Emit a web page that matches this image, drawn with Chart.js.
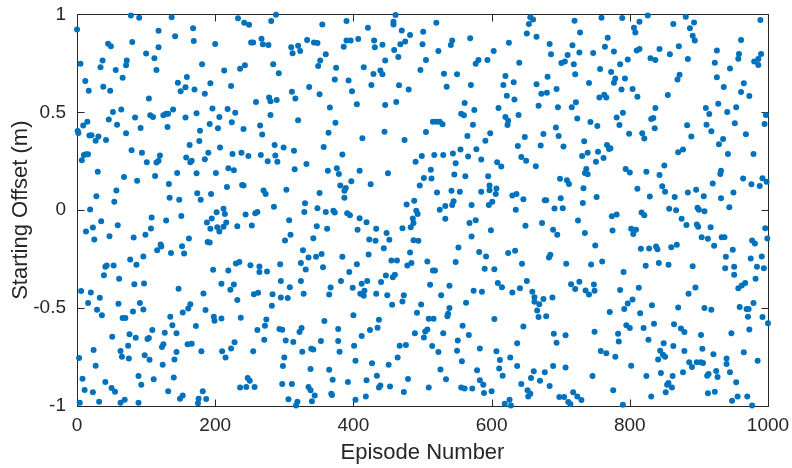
<!DOCTYPE html>
<html>
<head>
<meta charset="utf-8">
<script src="https://cdn.jsdelivr.net/npm/chart.js@4/dist/chart.umd.min.js"></script>
<style>
  html, body { margin: 0; padding: 0; background: #ffffff; }
  #wrap { width: 792px; height: 468px; }
</style>
</head>
<body>
<div id="wrap"><canvas id="c" width="792" height="468"></canvas></div>
<script>
// Starting offset (m) drawn for each training episode, as [episode, offset].
const episodeOffsets = [
  [0,0.923],[78,0.995],[90,0.983],[80,0.859],[45,0.850],[49,0.837],[5,0.748],[37,0.765],[34,0.730],[56,0.716],
  [72,0.765],[71,0.740],[12,0.66],[17,0.61],[38,0.63],[48,0.61],[66,0.677],[1,0.405],[2,0.394],[9,0.432],
  [15,0.452],[18,0.381],[21,0.383],[27,0.355],[31,0.376],[42,0.359],[46,0.463],[52,0.502],[58,0.437],[64,0.514],
  [71,0.393],[84,0.473],[92,0.42],[10,0.282],[13,0.286],[16,0.286],[7,0.255],[79,0.306],[94,0.293],[30,0.196],
  [68,0.17],[87,0.15],[57,0.10],[28,0.071],[54,0.043],[19,0.003],[35,-0.056],[23,-0.088],[13,-0.109],[25,-0.15],
  [47,-0.133],[59,-0.077],[82,-0.139],[99,-0.126],[77,-0.252],[86,-0.279],[96,-0.236],[41,-0.289],[43,-0.282],[53,-0.282],
  [39,-0.332],[61,-0.35],[83,-0.378],[97,-0.374],[6,-0.413],[20,-0.42],[16,-0.474],[33,-0.447],[29,-0.508],[36,-0.537],
  [60,-0.478],[91,-0.474],[96,-0.507],[81,-0.517],[66,-0.551],[70,-0.551],[51,-0.646],[76,-0.634],[85,-0.651],[24,-0.714],
  [63,-0.719],[74,-0.692],[65,-0.748],[75,-0.758],[98,-0.741],[3,-0.755],[27,-0.794],[8,-0.861],[11,-0.918],[23,-0.93],
  [41,-0.878],[50,-0.908],[55,-0.927],[89,-0.847],[93,-0.891],[4,-0.983],[32,-0.978],[63,-0.983],[69,-0.968],[89,-0.983],

  [137,0.985],[168,0.929],[118,0.917],[142,0.889],[169,0.864],[100,0.80],[118,0.832],[112,0.776],[115,0.716],[181,0.745],
  [159,0.68],[146,0.651],[157,0.628],[150,0.607],[170,0.616],[185,0.595],[104,0.57],[106,0.485],[110,0.476],[125,0.485],
  [129,0.493],[132,0.493],[139,0.514],[157,0.473],[173,0.495],[131,0.425],[178,0.406],[177,0.354],[163,0.333],[101,0.245],
  [115,0.243],[118,0.253],[120,0.279],[158,0.269],[166,0.252],[164,0.245],[185,0.26],[190,0.294],[113,0.175],[145,0.19],
  [173,0.189],[133,0.134],[134,0.063],[148,0.053],[174,0.087],[179,0.054],[108,-0.037],[129,-0.053],[151,-0.029],[107,-0.094],
  [121,-0.175],[122,-0.185],[116,-0.204],[136,-0.218],[152,-0.184],[155,-0.221],[162,-0.145],[188,-0.063],[189,-0.162],[147,-0.401],
  [183,-0.425],[153,-0.522],[161,-0.502],[164,-0.48],[186,-0.51],[135,-0.544],[138,-0.588],[144,-0.628],[127,-0.626],[109,-0.612],
  [102,-0.658],[104,-0.653],[172,-0.592],[160,-0.684],[166,-0.682],[125,-0.684],[123,-0.699],[144,-0.724],[141,-0.762],[180,-0.721],
  [105,-0.764],[124,-0.789],[111,-0.864],[140,-0.855],[132,-0.925],[149,-0.963],[153,-0.947],[176,-0.963],[175,-0.986],[182,-0.925],
  [187,-0.964],

  [233,0.98],[242,0.957],[249,0.947],[281,0.966],[288,0.998],[200,0.849],[252,0.857],[255,0.857],[267,0.876],[269,0.847],
  [277,0.844],[213,0.713],[236,0.723],[243,0.74],[284,0.745],[193,0.648],[223,0.634],[259,0.553],[278,0.575],[280,0.556],
  [289,0.563],[196,0.519],[206,0.476],[218,0.517],[229,0.498],[224,0.449],[192,0.44],[204,0.418],[241,0.415],[265,0.432],
  [268,0.386],[280,0.486],[207,0.32],[225,0.287],[238,0.293],[248,0.277],[266,0.282],[276,0.25],[286,0.333],[287,0.279],
  [290,0.247],[219,0.214],[227,0.204],[201,0.19],[194,0.083],[217,0.119],[239,0.129],[241,0.126],[270,0.10],[273,0.083],
  [285,0.017],[202,-0.01],[212,0.007],[214,-0.02],[195,-0.043],[193,-0.095],[203,-0.087],[206,-0.109],[212,-0.085],[216,-0.063],
  [232,-0.082],[244,-0.022],[258,-0.015],[261,-0.009],[253,-0.078],[192,-0.165],[197,-0.304],[219,-0.308],[230,-0.272],[235,-0.265],
  [251,-0.281],[264,-0.287],[264,-0.316],[275,-0.313],[209,-0.376],[222,-0.406],[227,-0.379],[232,-0.459],[256,-0.429],[262,-0.422],
  [283,-0.429],[282,-0.488],[198,-0.544],[199,-0.565],[209,-0.553],[237,-0.549],[274,-0.558],[272,-0.59],[261,-0.612],[271,-0.662],
  [228,-0.675],[223,-0.706],[210,-0.721],[215,-0.752],[255,-0.721],[247,-0.857],[250,-0.871],[236,-0.905],[245,-0.903],[257,-0.903],

  [292,0.70],[355,0.949],[390,0.966],[333,0.869],[343,0.857],[348,0.854],[310,0.832],[320,0.84],[312,0.801],[323,0.813],
  [360,0.796],[352,0.764],[349,0.736],[386,0.835],[390,0.867],[375,0.728],[373,0.667],[336,0.629],[311,0.605],[316,0.571],
  [351,0.592],[366,0.524],[320,0.459],[374,0.446],[364,0.396],[357,0.323],[384,0.284],[299,0.32],[314,0.303],[332,0.236],
  [315,0.209],[363,0.202],[376,0.214],[379,0.185],[381,0.126],[389,0.114],[387,0.099],[387,0.063],[303,0.105],[351,0.088],
  [330,0.036],[329,-0.009],[348,0.01],[360,-0.009],[371,-0.003],[373,-0.012],[391,-0.015],[307,-0.051],[347,-0.082],[362,-0.095],
  [309,-0.126],[301,-0.155],[342,-0.143],[327,-0.204],[335,-0.241],[346,-0.238],[354,-0.224],[356,-0.291],[384,-0.238],[324,-0.27],
  [331,-0.303],[294,-0.276],[295,-0.361],[308,-0.393],[324,-0.361],[328,-0.427],[295,-0.446],[305,-0.449],[367,-0.395],[365,-0.43],
  [382,-0.361],[293,-0.607],[297,-0.611],[325,-0.602],[322,-0.622],[358,-0.566],[378,-0.607],[378,-0.668],[380,-0.723],[302,-0.665],
  [313,-0.673],[353,-0.668],[326,-0.723],[339,-0.707],[342,-0.711],[300,-0.752],[298,-0.796],[338,-0.811],[365,-0.815],[297,-0.888],
  [311,-0.888],[335,-0.903],[338,-0.92],[344,-0.946],[370,-0.866],[368,-0.937],[369,-0.944],[306,-0.966],[319,-0.978],[317,-0.997],
  [340,-0.976],

  [396,0.867],[407,0.874],[421,0.932],[461,0.997],[458,0.963],[458,0.949],[470,0.918],[482,0.895],[475,0.862],[430,0.867],
  [431,0.832],[442,0.845],[459,0.818],[468,0.847],[465,0.782],[446,0.765],[415,0.73],[439,0.714],[442,0.694],[429,0.696],
  [393,0.663],[398,0.607],[426,0.639],[466,0.638],[480,0.616],[405,0.541],[446,0.537],[462,0.553],[413,0.367],[445,0.401],
  [474,0.359],[409,0.202],[397,0.148],[425,0.133],[450,0.189],[490,0.248],[395,-0.026],[409,-0.041],[419,-0.061],[406,-0.10],
  [433,-0.095],[477,0.029],[488,0.048],[491,-0.003],[493,-0.019],[486,-0.043],[487,-0.066],[483,-0.087],[471,-0.092],[448,-0.117],
  [423,-0.15],[432,-0.156],[452,-0.151],[422,-0.226],[444,-0.194],[487,-0.153],[482,-0.216],[455,-0.257],[463,-0.257],[405,-0.276],
  [478,-0.282],[484,-0.27],[394,-0.315],[447,-0.333],[457,-0.342],[460,-0.33],[420,-0.361],[412,-0.376],[440,-0.367],[399,-0.396],
  [416,-0.412],[410,-0.427],[415,-0.437],[433,-0.427],[449,-0.434],[473,-0.435],[471,-0.466],[456,-0.483],[400,-0.536],[437,-0.56],
  [435,-0.6],[424,-0.612],[412,-0.643],[492,-0.524],[489,-0.628],[401,-0.692],[467,-0.692],[476,-0.689],[464,-0.752],[403,-0.769],
  [427,-0.782],[451,-0.789],[434,-0.845],[392,-0.878],[419,-0.869],[439,-0.895],[437,-0.905],[453,-0.901],[479,-0.862],[473,-0.929],
  [403,-0.968],[418,-0.952],

  [494,-0.156],[520,0.957],[501,0.912],[500,0.847],[541,0.844],[543,0.867],[569,0.878],[523,0.813],[505,0.767],[497,0.716],
  [577,0.748],[581,0.767],[531,0.697],[550,0.694],[535,0.631],[570,0.639],[561,0.548],[575,0.512],[556,0.493],[560,0.485],
  [573,0.437],[515,0.452],[520,0.452],[525,0.452],[529,0.439],[505,0.40],[565,0.379],[591,0.355],[499,0.277],[517,0.282],
  [530,0.282],[544,0.289],[555,0.31],[566,0.274],[578,0.311],[585,0.259],[548,0.24],[512,0.206],[513,0.162],[502,0.165],
  [496,0.126],[546,0.182],[562,0.173],[521,0.09],[542,0.099],[554,0.094],[585,0.094],[571,0.026],[525,0.002],[533,0.022],
  [543,0.026],[545,0.046],[533,-0.044],[568,-0.065],[577,-0.051],[571,-0.134],[552,-0.19],[582,-0.213],[592,-0.236],[590,-0.299],
  [507,-0.262],[515,-0.308],[518,-0.308],[548,-0.264],[511,-0.381],[539,-0.386],[527,-0.435],[574,-0.412],[586,-0.417],[563,-0.473],
  [498,-0.481],[509,-0.554],[516,-0.554],[539,-0.5],[537,-0.529],[536,-0.541],[507,-0.609],[504,-0.619],[502,-0.65],[530,-0.628],
  [558,-0.59],[567,-0.638],[551,-0.665],[514,-0.694],[523,-0.724],[550,-0.718],[557,-0.772],[583,-0.706],[526,-0.813],[534,-0.864],
  [579,-0.818],[583,-0.869],[588,-0.891],[589,-0.934],[509,-0.905],[556,-0.905],[561,-0.91],[572,-0.91],

  [594,0.767],[656,0.985],[660,0.974],[654,0.951],[651,0.903],[665,0.886],[625,0.855],[684,0.849],[686,0.796],[603,0.813],
  [640,0.753],[620,0.685],[617,0.639],[632,0.653],[622,0.585],[633,0.566],[681,0.682],[665,0.643],[672,0.595],[680,0.60],
  [668,0.534],[610,0.522],[639,0.486],[620,0.476],[624,0.457],[623,0.435],[598,0.393],[648,0.374],[675,0.389],[638,0.328],
  [671,0.33],[643,0.272],[650,0.253],[608,0.245],[614,0.223],[664,0.224],[595,0.173],[597,0.126],[597,0.102],[607,0.111],
  [606,0.083],[596,0.027],[601,0.043],[630,0.075],[636,0.083],[646,0.056],[677,0.051],[679,0.051],[691,0.009],[635,0.002],
  [599,-0.102],[649,-0.08],[673,-0.066],[689,-0.10],[624,-0.218],[634,-0.207],[644,-0.274],[683,-0.241],[685,-0.228],[604,-0.301],
  [609,-0.372],[615,-0.393],[630,-0.42],[641,-0.398],[651,-0.361],[659,-0.417],[662,-0.444],[662,-0.468],[669,-0.48],[666,-0.512],
  [668,-0.546],[675,-0.454],[679,-0.541],[688,-0.446],[604,-0.556],[646,-0.594],[690,-0.631],[637,-0.68],[607,-0.721],[612,-0.765],
  [611,-0.808],[616,-0.845],[627,-0.752],[637,-0.796],[689,-0.796],[661,-0.823],[657,-0.857],[670,-0.871],[677,-0.827],[684,-0.898],
  [643,-0.888],[652,-0.92],[656,-0.937],[653,-0.951],[600,-0.925],[619,-0.988],[626,-0.968],[628,-0.997],

  [693,0.422],[697,0.379],[694,-0.677],[720,0.968],[759,0.983],[789,0.981],[728,0.908],[768,0.881],[717,0.842],[727,0.806],
  [710,0.793],[706,0.76],[701,0.752],[719,0.745],[721,0.694],[747,0.803],[764,0.835],[777,0.811],[757,0.721],[773,0.706],
  [779,0.672],[777,0.651],[786,0.745],[788,0.616],[741,0.65],[694,0.619],[696,0.526],[716,0.526],[722,0.551],[756,0.575],
  [763,0.59],[766,0.575],[724,0.468],[743,0.451],[753,0.43],[781,0.473],[785,0.435],[790,0.498],[704,0.325],[734,0.352],
  [731,0.277],[739,0.294],[754,0.299],[751,0.247],[762,0.267],[767,0.333],[770,0.313],[772,0.316],[737,0.211],[735,0.19],
  [739,0.184],[699,0.16],[709,0.153],[712,0.134],[733,0.112],[752,0.068],[700,0.061],[703,0.01],[732,0.037],[774,-0.031],
  [781,-0.022],[725,-0.053],[695,-0.126],[735,-0.117],[775,-0.104],[750,-0.18],[708,-0.274],[744,-0.277],[760,-0.262],[791,-0.315],
  [715,-0.378],[721,-0.403],[727,-0.366],[736,-0.41],[741,-0.43],[748,-0.379],[749,-0.412],[786,-0.408],[771,-0.52],[792,-0.505],
  [707,-0.639],[749,-0.621],[783,-0.631],[784,-0.67],[758,-0.719],[766,-0.731],[779,-0.748],[707,-0.803],[746,-0.847],[776,-0.92],
  [698,-0.954],[705,-0.954],[711,-0.98],[714,-0.99],[718,-0.93],[724,-0.951],[730,-0.969],[790,-0.993],

  [793,0.672],[797,-0.476],[795,-0.588],[800,-0.602],[826,0.995],[881,0.988],[887,0.929],[814,0.963],[806,0.932],[808,0.908],
  [863,0.951],[843,0.823],[871,0.837],[858,0.796],[810,0.815],[814,0.823],[797,0.77],[830,0.776],[837,0.767],[884,0.772],
  [869,0.668],[872,0.692],[804,0.619],[811,0.58],[855,0.588],[837,0.522],[831,0.466],[834,0.471],[836,0.418],[818,0.393],
  [821,0.366],[799,0.391],[883,0.434],[889,0.376],[870,0.296],[877,0.31],[850,0.228],[794,0.211],[800,0.192],[824,0.197],
  [843,0.18],[811,0.109],[847,0.122],[851,0.094],[829,0.07],[865,0.068],[884,0.09],[857,0.007],[867,0.0],[817,-0.012],
  [821,-0.026],[875,-0.044],[882,-0.075],[802,-0.095],[809,-0.10],[805,-0.121],[816,-0.197],[828,-0.196],[838,-0.185],[840,-0.199],
  [860,-0.189],[868,-0.177],[823,-0.284],[842,-0.27],[856,-0.279],[813,-0.396],[804,-0.456],[815,-0.526],[832,-0.486],[870,-0.497],
  [885,-0.427],[820,-0.602],[835,-0.58],[864,-0.582],[874,-0.604],[879,-0.622],[827,-0.662],[849,-0.679],[863,-0.694],[879,-0.719],
  [844,-0.718],[848,-0.738],[851,-0.748],[841,-0.762],[802,-0.794],[886,-0.777],[890,-0.801],[824,-0.847],[845,-0.832],[862,-0.847],
  [877,-0.828],[856,-0.883],[854,-0.891],[861,-0.906],[852,-0.93],[831,-0.951],

  [893,0.959],[891,0.891],[894,0.867],[891,-0.286],[895,-0.395],[989,0.971],[961,0.869],[926,0.816],[958,0.798],[957,0.774],
  [990,0.798],[986,0.772],[980,0.759],[986,0.741],[923,0.753],[926,0.679],[945,0.724],[965,0.648],[961,0.604],[973,0.583],
  [936,0.629],[910,0.522],[915,0.491],[928,0.544],[954,0.526],[941,0.502],[997,0.486],[995,0.44],[911,0.437],[918,0.403],
  [952,0.444],[968,0.388],[935,0.364],[929,0.337],[942,0.287],[979,0.287],[932,0.201],[931,0.185],[920,0.136],[964,0.162],
  [976,0.133],[988,0.124],[992,0.163],[998,0.145],[896,0.105],[907,0.071],[932,0.061],[950,0.09],[898,0.012],[900,0.002],
  [908,-0.005],[944,0.015],[897,-0.073],[899,-0.085],[917,-0.087],[996,-0.092],[999,-0.145],[904,-0.138],[913,-0.146],[933,-0.138],
  [937,-0.138],[922,-0.182],[977,-0.155],[981,-0.17],[949,-0.202],[939,-0.238],[975,-0.247],[991,-0.236],[938,-0.296],[951,-0.289],
  [951,-0.33],[984,-0.289],[994,-0.296],[957,-0.398],[962,-0.384],[967,-0.372],[982,-0.35],[908,-0.5],[918,-0.509],[959,-0.495],
  [969,-0.505],[972,-0.505],[979,-0.474],[971,-0.544],[992,-0.546],[1000,-0.578],[973,-0.609],[947,-0.628],[903,-0.638],[905,-0.707],
  [921,-0.736],[965,-0.726],[897,-0.776],[903,-0.777],[906,-0.781],[940,-0.757],[940,-0.786],[985,-0.769],[912,-0.845],[914,-0.837],
  [925,-0.821],[927,-0.852],[945,-0.828],[954,-0.879],[913,-0.935],[923,-0.927],[948,-0.973],[956,-0.952],[970,-0.951],[977,-0.997]
];

const xTicks = [0, 200, 400, 600, 800, 1000];
const yTicks = [-1, -0.5, 0, 0.5, 1];
const yTickLabels = ['-1', '-0.5', '0', '0.5', '1'];
const xTitle = 'Episode Number';
const yTitle = 'Starting Offset (m)';

const axisColor = '#262626';
const markerColor = '#0072BD';
const fontFamily = '"Liberation Sans", Arial, Helvetica, sans-serif';
const tickLen = 7;

// Box outline with inward tick marks on all four sides.
const boxAxes = {
  id: 'boxAxes',
  beforeDatasetsDraw(chart) {
    const { ctx, chartArea: a, scales } = chart;
    const L = Math.round(a.left) + 0.5, R = Math.round(a.right) + 0.5;
    const T = Math.round(a.top) + 0.5, B = Math.round(a.bottom) + 0.5;
    ctx.save();
    ctx.strokeStyle = axisColor;
    ctx.lineWidth = 1;
    ctx.beginPath();
    ctx.rect(L, T, R - L, B - T);
    xTicks.forEach(v => {
      const px = Math.round(scales.x.getPixelForValue(v)) + 0.5;
      ctx.moveTo(px, B); ctx.lineTo(px, B - tickLen);
      ctx.moveTo(px, T); ctx.lineTo(px, T + tickLen);
    });
    yTicks.forEach(v => {
      const py = Math.round(scales.y.getPixelForValue(v)) + 0.5;
      ctx.moveTo(L, py); ctx.lineTo(L + tickLen, py);
      ctx.moveTo(R, py); ctx.lineTo(R - tickLen, py);
    });
    ctx.stroke();
    ctx.restore();
  }
};

new Chart(document.getElementById('c'), {
  type: 'scatter',
  data: {
    datasets: [{
      data: episodeOffsets.map(([e, v]) => ({ x: e, y: v })),
      backgroundColor: markerColor,
      borderWidth: 0,
      pointRadius: 3,
      pointHoverRadius: 3,
      clip: false
    }]
  },
  options: {
    responsive: false,
    animation: false,
    devicePixelRatio: 1,
    events: [],
    layout: { padding: { top: 14, right: 24, left: 0, bottom: 0 } },
    plugins: { legend: { display: false }, tooltip: { enabled: false } },
    scales: {
      x: {
        type: 'linear',
        min: 0, max: 1000,
        afterBuildTicks: s => { s.ticks = xTicks.map(v => ({ value: v })); },
        afterFit: s => { s.height = 62; },
        grid: { display: false },
        border: { display: false },
        ticks: {
          color: axisColor, padding: 0, maxRotation: 0,
          font: { family: fontFamily, size: 19 },
          callback: v => String(v)
        },
        title: {
          display: true, text: xTitle, color: axisColor,
          font: { family: fontFamily, size: 22 },
          padding: { top: 0, bottom: 2 }
        }
      },
      y: {
        type: 'linear',
        min: -1, max: 1,
        afterBuildTicks: s => { s.ticks = yTicks.map(v => ({ value: v })); },
        afterFit: s => { s.width = 77; },
        grid: { display: false },
        border: { display: false },
        ticks: {
          color: axisColor, padding: 3,
          font: { family: fontFamily, size: 19 },
          callback: v => yTickLabels[yTicks.indexOf(v)]
        },
        title: {
          display: true, text: yTitle, color: axisColor,
          font: { family: fontFamily, size: 22 },
          padding: { top: 8, bottom: 0 }
        }
      }
    }
  },
  plugins: [boxAxes]
});
</script>
</body>
</html>
